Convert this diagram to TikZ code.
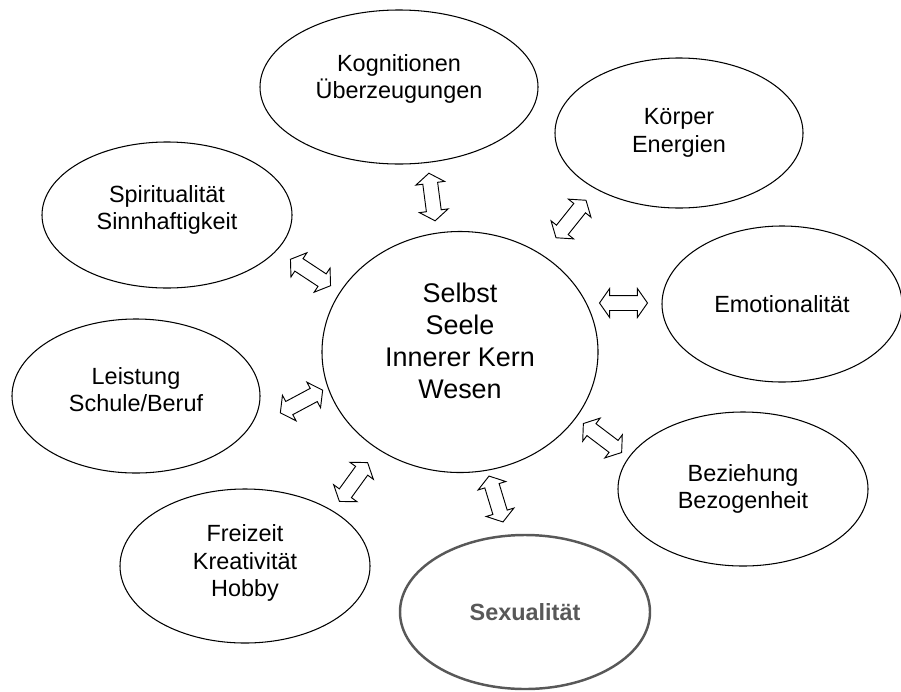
\documentclass[tikz,border=0pt]{standalone}
\usepackage{fontspec}
\setmainfont{Liberation Sans}
\usetikzlibrary{shapes.geometric,shapes.arrows,calc}
\definecolor{SexGray}{RGB}{88,88,88}

\begin{document}
\begin{tikzpicture}[x=0.03cm,y=-0.03cm,
    bubble/.style={ellipse,draw,line width=0.9pt,inner sep=0pt,align=center,
      font=\fontsize{20}{23.5}\selectfont,minimum width=7.5cm,minimum height=4.62cm},
    dblarr/.style={double arrow,draw,line width=0.8pt,fill=white,
      inner xsep=0pt,inner ysep=0.21cm,minimum height=1.44cm,
      double arrow head extend=0.21cm,double arrow tip angle=110}]
  \useasboundingbox (0,0) rectangle (901,691);

  % the core and the eight areas round it
  \node[bubble,minimum width=8.28cm,minimum height=7.23cm,text depth=0.66cm,
    font=\fontsize{23}{27.3}\selectfont] (self) at (460,352)
    {Selbst\\Seele\\Innerer Kern\\Wesen};
  \node[bubble,minimum width=8.34cm,text depth=0.63cm] (kog) at (399,87) {Kognitionen\\Überzeugungen};
  \node[bubble,minimum width=7.44cm,minimum height=4.5cm] (kor) at (679,133) {Körper\\Energien};
  \node[bubble,minimum width=7.2cm,minimum height=4.68cm] (emo) at (782,304) {Emotionalität};
  \node[bubble] (bez) at (743,489) {Beziehung\\Bezogenheit};
  \node[bubble,draw=SexGray,line width=2.1pt,text=SexGray,
    font=\fontsize{20}{23.5}\selectfont\bfseries] (sex) at (525,612) {Sexualität};
  \node[bubble,text depth=0.33cm] (fre) at (245,566) {Freizeit\\Kreativität\\Hobby};
  \node[bubble,minimum width=7.44cm,text depth=0.39cm] (lei) at (136,396) {Leistung\\Schule/Beruf};
  \node[bubble,minimum height=4.38cm,text depth=0.45cm] (spi) at (167,215) {Spiritualität\\Sinnhaftigkeit};

  % ends of the double arrows
  \coordinate (kog1) at (429,174); \coordinate (kog2) at (435,220);
  \coordinate (kor1) at (555,239); \coordinate (kor2) at (587,199);
  \coordinate (emo1) at (600,303); \coordinate (emo2) at (647,303);
  \coordinate (bez1) at (584,424); \coordinate (bez2) at (621,452);
  \coordinate (sex1) at (489,476); \coordinate (sex2) at (503,522);
  \coordinate (fre1) at (339,502); \coordinate (fre2) at (368,462);
  \coordinate (lei1) at (280,413); \coordinate (lei2) at (323,390);
  \coordinate (spi1) at (290,259); \coordinate (spi2) at (331,286);

  \path (kog1) -- node[dblarr,sloped] (akog) {} (kog2);
  \path (kor1) -- node[dblarr,sloped] (akor) {} (kor2);
  \path (emo1) -- node[dblarr,sloped] (aemo) {} (emo2);
  \path (bez1) -- node[dblarr,sloped] (abez) {} (bez2);
  \path (sex1) -- node[dblarr,sloped] (asex) {} (sex2);
  \path (fre1) -- node[dblarr,sloped] (afre) {} (fre2);
  \path (lei1) -- node[dblarr,sloped] (alei) {} (lei2);
  \path (spi1) -- node[dblarr,sloped] (aspi) {} (spi2);
\end{tikzpicture}
\end{document}
